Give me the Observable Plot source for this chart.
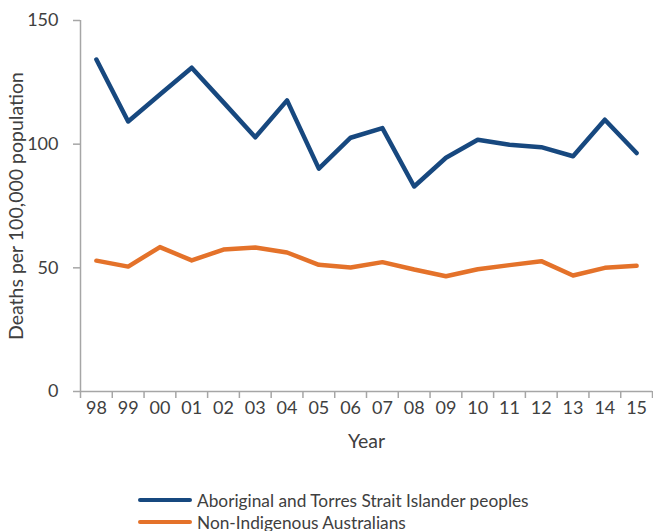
<!DOCTYPE html>
<html>
<head>
<meta charset="utf-8">
<script src="https://cdn.jsdelivr.net/npm/d3@7"></script>
<script src="https://cdn.jsdelivr.net/npm/@observablehq/plot@0.6"></script>
<style>
  html, body { margin: 0; padding: 0; background: #fff; }
  body { width: 653px; height: 531px; overflow: hidden; font-family: Lato, "Noto Sans", sans-serif; color: #404040; }
  .legend { margin-left: 138px; margin-top: 19px; }
  .legend .row { display: flex; align-items: center; height: 22px; font-size: 17.3px; }
  .legend .sw { width: 54px; height: 4px; border-radius: 2px; margin-right: 5px; }
</style>
</head>
<body>
<div id="chart"></div>
<script>
const years = ["98","99","00","01","02","03","04","05","06","07","08","09","10","11","12","13","14","15"];
const indigenous = [134.2,109.2,120.1,130.9,116.9,102.8,117.7,90.1,102.6,106.5,82.9,94.5,101.8,99.8,98.8,95.1,109.9,96.4];
const nonIndigenous = [52.9,50.5,58.4,53.0,57.4,58.2,56.2,51.2,50.1,52.3,49.3,46.6,49.4,51.1,52.7,46.9,50.0,50.8];
const seriesNames = ["Aboriginal and Torres Strait Islander peoples", "Non-Indigenous Australians"];
const colors = ["#17487F", "#E4722A"];
const yTicks = [0, 50, 100, 150];
const yLabel = "Deaths per 100,000 population";
const xLabel = "Year";

const idx = years.map((_, i) => i);
const bounds = d3.range(-0.5, years.length, 1);
const data = [
  ...idx.map(i => ({i, v: indigenous[i], s: seriesNames[0]})),
  ...idx.map(i => ({i, v: nonIndigenous[i], s: seriesNames[1]}))
];
const axisColor = "#A6A6A6";
const textColor = "#404040";

const chart = Plot.plot({
  width: 653,
  height: 470,
  marginLeft: 80,
  marginRight: 1,
  marginTop: 20,
  marginBottom: 79,
  style: {fontFamily: "Lato, 'Noto Sans', sans-serif", fontSize: "18px", color: textColor, background: "#fff"},
  x: {type: "linear", domain: [-0.5, years.length - 0.5]},
  y: {domain: [0, 150]},
  color: {domain: seriesNames, range: colors},
  marks: [
    Plot.ruleX([-0.5], {stroke: axisColor, strokeWidth: 1.5}),
    Plot.ruleY([0], {stroke: axisColor, strokeWidth: 1.5}),
    Plot.axisY({ticks: yTicks, tickSize: 7, tickPadding: 15, stroke: axisColor, strokeWidth: 1.5, strokeOpacity: 1, label: null, fill: textColor, fontSize: 18}),
    Plot.axisX({ticks: bounds, tickSize: 7, tickFormat: () => "", stroke: axisColor, strokeWidth: 1.5, strokeOpacity: 1, label: null}),
    Plot.axisX({ticks: idx, tickSize: 0, tickPadding: 10, tickFormat: i => years[i], label: null, fill: textColor, fontSize: 18}),
    Plot.text([yLabel], {frameAnchor: "left", textAnchor: "middle", rotate: -90, dx: -64, text: d => d, fill: textColor, fontSize: 19.5}),
    Plot.text([xLabel], {frameAnchor: "bottom", textAnchor: "middle", dy: 56, text: d => d, fill: textColor, fontSize: 19.5}),
    Plot.line(data, {x: "i", y: "v", stroke: "s", z: "s", strokeWidth: 4.5, strokeLinejoin: "round", strokeLinecap: "round"})
  ]
});
document.getElementById("chart").appendChild(chart);

const legend = document.createElement("div");
legend.className = "legend";
seriesNames.forEach((n, k) => {
  const row = document.createElement("div");
  row.className = "row";
  const sw = document.createElement("div");
  sw.className = "sw";
  sw.style.background = colors[k];
  const t = document.createElement("span");
  t.textContent = n;
  row.appendChild(sw);
  row.appendChild(t);
  legend.appendChild(row);
});
document.body.appendChild(legend);
</script>
</body>
</html>
